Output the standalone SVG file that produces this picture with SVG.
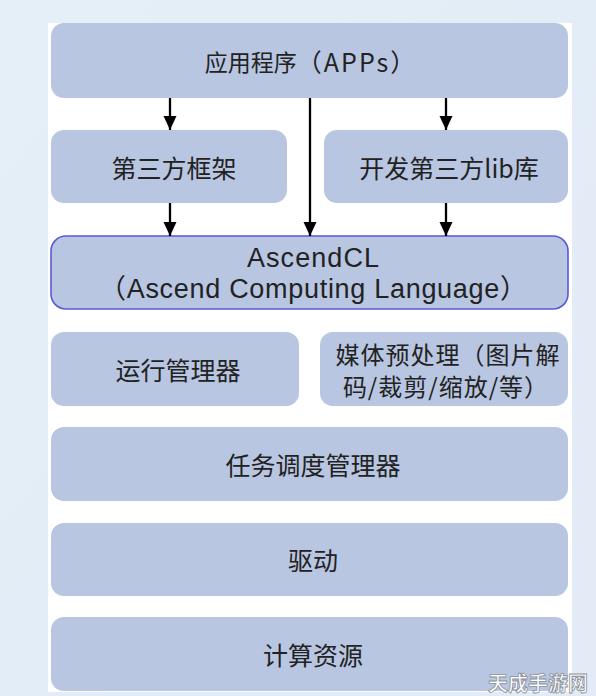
<svg xmlns="http://www.w3.org/2000/svg" width="596" height="696" viewBox="0 0 596 696">
  <defs>
    <linearGradient id="bg" x1="0" y1="0" x2="1" y2="1">
      <stop offset="0" stop-color="#e4eff7"/>
      <stop offset="1" stop-color="#e3ebf6"/>
    </linearGradient>
    <marker id="arr" markerUnits="userSpaceOnUse" markerWidth="16" markerHeight="14" refX="15" refY="7" orient="auto" viewBox="0 0 16 14">
      <path d="M1,0.5 L15,7 L1,13.5 Z" fill="#000"/>
    </marker>
    <style>
      .box { fill: #b8c6e1; }
      .acl { fill: #b8c6e1; stroke: #5a5ad2; stroke-width: 1.6; }
      .t { font-family: "Noto Sans CJK SC", "Liberation Sans", sans-serif; font-size: 25px; fill: #222; text-anchor: middle; dominant-baseline: central; }
      .m { font-size: 24px; letter-spacing: 1px; }
      .l { font-family: "Liberation Sans", "Noto Sans CJK SC", sans-serif; font-size: 27px; fill: #222; text-anchor: middle; dominant-baseline: central; }
      .c { stroke: #000; stroke-width: 2.3; fill: none; marker-end: url(#arr); }
    </style>
  </defs>
  <rect x="0" y="0" width="596" height="696" fill="url(#bg)"/>
  <rect x="48" y="23" width="524" height="669" fill="#ffffff"/>

  <g id="apps">
    <rect class="box" x="51" y="23" width="517" height="75" rx="13"/>
    <text class="t" x="311" y="61" style="font-size:23px">应用程序<tspan style="font-size:25px" letter-spacing="2">（APPs）</tspan></text>
  </g>
  <g id="framework">
    <rect class="box" x="51" y="130" width="236" height="73" rx="13"/>
    <text class="t" x="174" y="167">第三方框架</text>
  </g>
  <g id="lib">
    <rect class="box" x="324" y="130" width="244" height="73" rx="13"/>
    <text class="t" x="449" y="167">开发第三方lib库</text>
  </g>
  <g id="ascendcl">
    <rect class="acl" x="51" y="236" width="517" height="73" rx="15"/>
    <text class="l" x="313" y="258" textLength="132" lengthAdjust="spacing">AscendCL</text>
    <text class="l" x="313" y="289" textLength="428" lengthAdjust="spacing">（Ascend Computing Language）</text>
  </g>
  <g id="runtime">
    <rect class="box" x="51" y="332" width="248" height="74" rx="13"/>
    <text class="t" x="178" y="369">运行管理器</text>
  </g>
  <g id="media">
    <rect class="box" x="320" y="332" width="248" height="74" rx="13"/>
    <text class="t m"><tspan x="448" y="353">媒体预处理（图片解</tspan><tspan x="446" y="385">码/裁剪/缩放/等）</tspan></text>
  </g>
  <g id="scheduler">
    <rect class="box" x="51" y="427" width="517" height="74" rx="13"/>
    <text class="t" x="313" y="464">任务调度管理器</text>
  </g>
  <g id="driver">
    <rect class="box" x="51" y="523" width="517" height="73" rx="13"/>
    <text class="t" x="313" y="559">驱动</text>
  </g>
  <g id="compute">
    <rect class="box" x="51" y="617" width="517" height="74" rx="13"/>
    <text class="t" x="313" y="654">计算资源</text>
  </g>

  <g id="connectors">
    <line class="c" x1="170" y1="98" x2="170" y2="130"/>
    <line class="c" x1="446" y1="98" x2="446" y2="130"/>
    <line class="c" x1="170" y1="203" x2="170" y2="236"/>
    <line class="c" x1="446" y1="203" x2="446" y2="236"/>
    <line class="c" x1="310" y1="98" x2="310" y2="236"/>
  </g>

  <text x="538" y="682" font-family="Noto Sans CJK SC, sans-serif" font-size="20" font-weight="bold" fill="#ffffff" stroke="#8a8f99" stroke-width="0.8" text-anchor="middle" dominant-baseline="central">天成手游网</text>
</svg>
